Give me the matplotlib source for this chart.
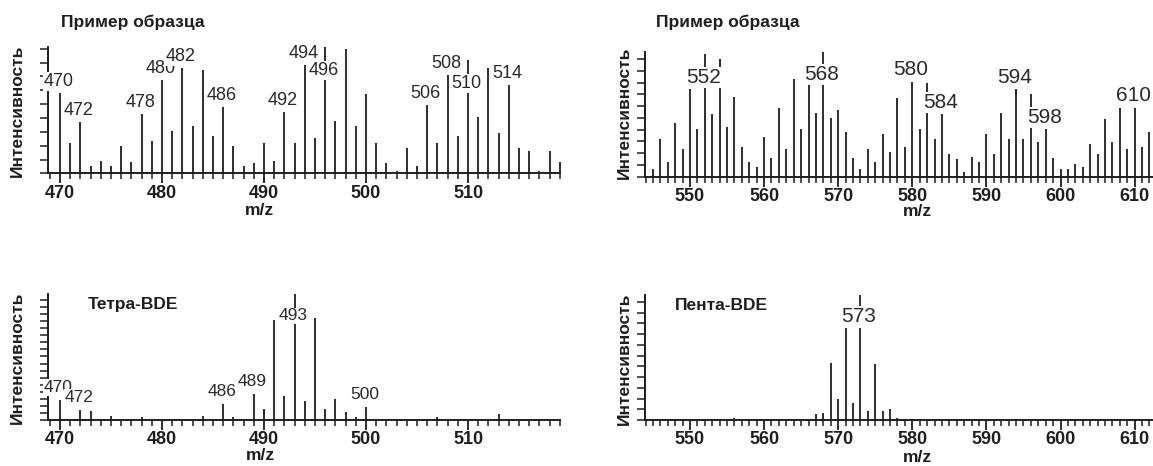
import numpy as np
import matplotlib.pyplot as plt
from matplotlib.ticker import MultipleLocator

plt.rcParams['font.family'] = ['Liberation Sans', 'DejaVu Sans']

# --- data (relative intensity, % of base peak) ---
tl_mz = list(range(470, 520))
tl_int = [64, 24, 41, 6, 10, 6, 22, 9, 47, 26,
          74, 34, 84, 38, 82, 30, 53, 22, 6, 8,
          24, 10, 49, 24, 86, 28, 100, 42, 99, 38,
          63, 24, 8, 2, 20, 6, 54, 24, 78, 30,
          90, 45, 84, 32, 70, 20, 18, 2, 18, 9]
tl_labels = [470, 472, 478, 480, 482, 486, 492, 494, 496, 506, 508, 510, 514]
tl_down = [496, 510]

tr_mz = list(range(545, 613))
tr_int = [6, 30, 12, 43, 22, 70, 38, 98, 50, 94,
          40, 64, 24, 12, 8, 32, 15, 55, 22, 78,
          38, 74, 51, 100, 47, 53, 36, 15, 6, 22,
          12, 34, 20, 63, 24, 76, 38, 75, 30, 50,
          18, 14, 4, 16, 12, 34, 18, 51, 30, 70,
          30, 66, 28, 38, 15, 6, 6, 10, 8, 26,
          18, 46, 28, 55, 22, 55, 24, 36]
tr_labels = [552, 568, 580, 584, 594, 598, 610]
tr_down = [552, 568]

bl_mz = [470, 472, 473, 475, 478, 484, 486, 487, 489, 490, 491,
         492, 493, 494, 495, 496, 497, 498, 499, 500, 507, 513]
bl_int = [16, 8, 7, 3, 2, 3, 13, 2, 21, 9, 79,
          19, 100, 15, 81, 9, 17, 6, 2, 10, 2, 5]
bl_labels = [470, 472, 486, 489, 493, 500]
bl_down = [493]

br_mz = [556, 567, 568, 569, 570, 571, 572, 573, 574, 575, 576, 577, 578]
br_int = [2, 5, 6, 46, 17, 74, 14, 100, 7, 45, 7, 9, 2]
br_labels = [573]
br_down = [573]

title_top = "Пример образца"
ylab = "Интенсивность"
xlab = "m/z"

W, H = 1153, 466
fig = plt.figure(figsize=(W / 100, H / 100), dpi=100)
INK = '#1e1e1e'


def panel(box, xlim, mz, vals, labels, down, ystep, fs, up_px, dn_px):
    left, right, base, top = box
    ax = fig.add_axes([left / W, 1 - base / H, (right - left) / W, (base - top) / H])
    ax.vlines(mz, 0, vals, color=INK, lw=1.3, clip_on=False, zorder=2)
    ax.set_xlim(*xlim)
    ax.set_ylim(0, 100)
    for s in ['top', 'right']:
        ax.spines[s].set_visible(False)
    for s in ['left', 'bottom']:
        ax.spines[s].set_linewidth(1.4)
        ax.spines[s].set_color(INK)
    ax.xaxis.set_major_locator(MultipleLocator(10))
    ax.xaxis.set_minor_locator(MultipleLocator(1))
    ax.yaxis.set_major_locator(MultipleLocator(ystep))
    ax.tick_params(axis='x', which='major', direction='out', length=7, width=1.3,
                   color=INK, pad=1, labelsize=13, labelcolor=INK)
    ax.tick_params(axis='x', which='minor', direction='out', length=4.5, width=1.1, color=INK)
    ax.tick_params(axis='y', which='major', direction='out', length=6, width=1.1,
                   color=INK, labelleft=False)
    for t in ax.get_xticklabels():
        t.set_fontweight('bold')
    lookup = dict(zip(mz, vals))
    for m in labels:
        dy = -dn_px if m in down else up_px
        ax.annotate(str(m), (m, lookup[m]), xytext=(-1.5 * 0.72, dy * 0.72),
                    textcoords='offset points', ha='center', va='center',
                    fontsize=fs, color='#2a2a2a', zorder=5,
                    bbox=dict(boxstyle='square,pad=0.05', fc='white', ec='none'))
    return ax


panel((48, 560, 173.5, 47.5), (468.82, 519.02), tl_mz, tl_int, tl_labels, tl_down, 11, 13, 11.5, 23)
panel((645, 1153, 176.7, 51.7), (543.93, 612.48), tr_mz, tr_int, tr_labels, tr_down, 9.4, 15, 12, 23)
panel((48, 560, 420, 294), (468.82, 519.02), bl_mz, bl_int, bl_labels, bl_down, 5.6, 12.5, 12.5, 22)
panel((645, 1153, 420, 295), (543.93, 612.48), br_mz, br_int, br_labels, br_down, 8.6, 15, 12, 22)


def ftext(x, y, s, **kw):
    fig.text(x / W, 1 - y / H, s, ha='center', va='center', color=INK, fontweight='bold', **kw)


ftext(133, 22, title_top, fontsize=12.5)
ftext(728, 22, title_top, fontsize=12.5)
ftext(133, 305, "Тетра-BDE", fontsize=12.5)
ftext(721, 305, "Пента-BDE", fontsize=12.5)
for x, y in [(17, 111), (624, 113), (17, 358), (624, 359)]:
    ftext(x, y, ylab, fontsize=12.5, rotation=90)
for x, y in [(259, 211), (917, 212), (260, 456), (917, 457)]:
    ftext(x, y, xlab, fontsize=12.5)

fig.savefig('out.png', dpi=100, facecolor='white')
